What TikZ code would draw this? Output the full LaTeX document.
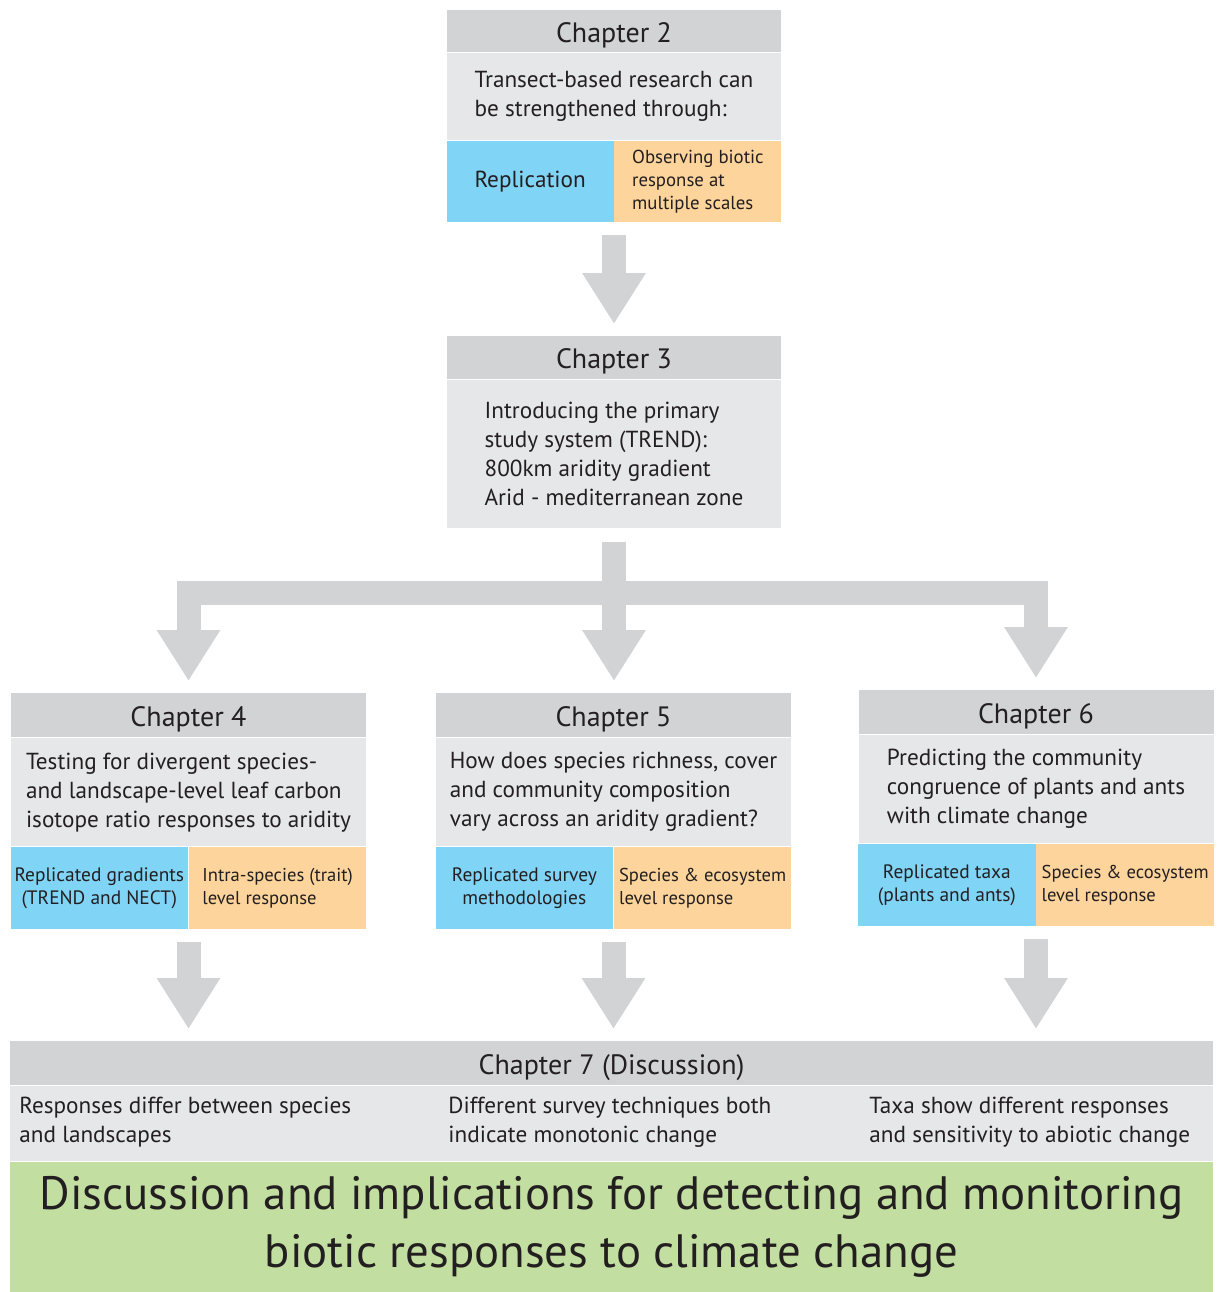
\documentclass[tikz,border=0pt]{standalone}
\usepackage{fontspec}
\setmainfont{PT Sans}
\usetikzlibrary{positioning,arrows.meta}

\definecolor{headgray}{HTML}{D1D3D4}
\definecolor{bodygray}{HTML}{E6E7E8}
\definecolor{cellblue}{HTML}{80D4F6}
\definecolor{cellorange}{HTML}{FDD59C}
\definecolor{sumgreen}{HTML}{C2DFA1}
\definecolor{arrowgray}{HTML}{D1D3D4}
\definecolor{inkdark}{HTML}{231F20}

\tikzset{
    chead/.style={fill=headgray, inner sep=0pt, text=inkdark,
        text height=11pt, text depth=0pt,
        font=\fontsize{14}{16}\selectfont},
    cbody/.style={fill=bodygray, inner sep=0pt, align=left, text=inkdark,
        font=\fontsize{11.6}{14.5}\selectfont},
    bluecell/.style={fill=cellblue, inner sep=0pt, align=center, text=inkdark,
        font=\fontsize{9.7}{11.5}\selectfont},
    orangecell/.style={fill=cellorange, inner sep=0pt, align=left, text=inkdark,
        font=\fontsize{9.3}{11.5}\selectfont},
    fatarrow/.style={draw=arrowgray, line width=12pt,
        -{Triangle[length=25.5pt, width=30pt]},
        shorten <=6.5pt, shorten >=6pt},
}

\begin{document}
\begin{tikzpicture}[x=0.5pt, y=-0.5pt]
    \useasboundingbox (0,0) rectangle (1218,1292);

    % Chapter 2
    \node[chead, minimum width=167pt, minimum height=21pt, anchor=north] (ch2head) at (614,10) {Chapter 2};
    \node[cbody, minimum width=167pt, minimum height=43.5pt, below=0pt of ch2head] (ch2text)
        {Transect-based research can\\be strengthened through:};
    \node[bluecell, minimum width=83.5pt, minimum height=40.5pt, below left=0pt of ch2text.south,
        font=\fontsize{11.6}{14}\selectfont] (ch2a) {Replication};
    \node[orangecell, minimum width=83.5pt, minimum height=40.5pt, below right=0pt of ch2text.south,
        font=\fontsize{9.4}{11.5}\selectfont] (ch2b)
        {Observing biotic\\response at\\multiple scales};

    % Chapter 3
    \node[chead, minimum width=167pt, minimum height=21.5pt, anchor=north] (ch3head) at (614,336) {Chapter 3};
    \node[cbody, minimum width=167pt, minimum height=74pt, below=0pt of ch3head] (ch3text)
        {Introducing the primary\\study system (TREND):\\800km aridity gradient\\Arid - mediterranean zone};

    % Chapters 4, 5 and 6
    \foreach \n/\x/\y/\txt/\blue/\orange in {
        4/188.5/693/{Testing for divergent species-\\and landscape-level leaf carbon\\isotope ratio responses to aridity}/{Replicated gradients\\(TREND and NECT)}/{Intra-species (trait)\\level response},
        5/613.5/693/{How does species richness, cover\\and community composition\\vary across an aridity gradient?}/{Replicated survey\\methodologies}/{Species \& ecosystem\\level response},
        6/1036/690/{Predicting the community\\congruence of plants and ants\\with climate change}/{Replicated taxa\\(plants and ants)}/{Species \& ecosystem\\level response}} {
        \node[chead, minimum width=177.5pt, minimum height=22pt, anchor=north] (ch\n head) at (\x,\y) {Chapter \n};
        \node[cbody, minimum width=177.5pt, minimum height=54pt, below=0pt of ch\n head] (ch\n text) {\txt};
        \node[bluecell, minimum width=88.75pt, minimum height=41pt, below left=0pt of ch\n text.south] (ch\n a) {\blue};
        \node[orangecell, minimum width=88.75pt, minimum height=41pt, below right=0pt of ch\n text.south] (ch\n b) {\orange};
    }

    % Chapter 7 and summary
    \node[chead, minimum width=601.5pt, minimum height=22pt, anchor=north] (ch7head) at (611.5,1041) {Chapter 7 (Discussion)};
    \node[cbody, minimum width=601.5pt, minimum height=37.5pt, below=0pt of ch7head] (ch7text) {};
    \node[cbody, fill=none, anchor=west] (ch7a) at (19,1122) {Responses differ between species\\and landscapes};
    \node[cbody, fill=none, anchor=west] (ch7b) at (448,1122) {Different survey techniques both\\indicate monotonic change};
    \node[cbody, fill=none, anchor=west] (ch7c) at (869,1122) {Taxa show different responses\\and sensitivity to abiotic change};
    \node[fill=sumgreen, minimum width=601.5pt, minimum height=65pt, inner sep=0pt, below=0pt of ch7text,
        align=center, text=inkdark, font=\fontsize{23.4}{29}\selectfont] (summary)
        {Discussion and implications for detecting and monitoring\\biotic responses to climate change};

    % Arrows
    \draw[fatarrow] (ch2a.south east) -- (ch3head.north);
    \draw[fatarrow] (ch3text.south) -- ++(0,64) -| (ch4head.north);
    \draw[fatarrow] (ch3text.south) -- (ch3text.south |- ch5head.north);
    \draw[fatarrow] (ch3text.south) -- ++(0,64) -| (ch6head.north);
    \foreach \n in {4,5,6} {
        \draw[fatarrow] (ch\n a.south east) -- (ch\n a.south east |- ch7head.north);
    }
\end{tikzpicture}
\end{document}
